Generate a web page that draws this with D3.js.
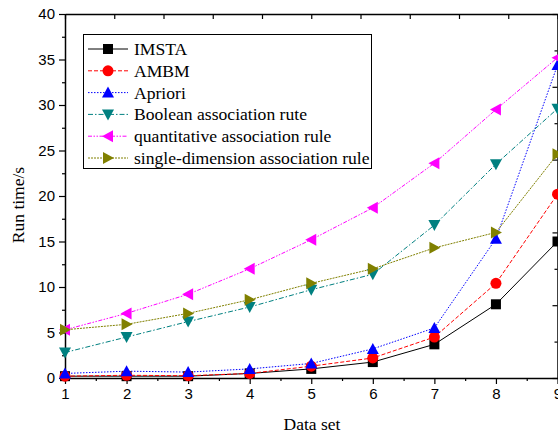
<!DOCTYPE html>
<html>
<head>
<meta charset="utf-8">
<script src="https://cdn.jsdelivr.net/npm/d3@7"></script>
<style>
  html, body { margin: 0; padding: 0; background: #fff; }
  svg { display: block; }
  .tick text { font-family: "Liberation Sans", Arial, sans-serif; font-size: 15px; fill: #000; }
  .title { font-family: "Liberation Serif", "Times New Roman", serif; font-size: 17.5px; fill: #000; }
  .legend text { font-family: "Liberation Serif", "Times New Roman", serif; font-size: 17.6px; fill: #000; }
</style>
</head>
<body>
<svg id="chart" width="558" height="436"></svg>
<script>
// data
const dataSets = [1, 2, 3, 4, 5, 6, 7, 8, 9];
const imsta     = [0.2, 0.2, 0.2, 0.5, 1.0, 1.75, 3.7, 8.1, 15.0];
const ambm      = [0.2, 0.3, 0.25, 0.5, 1.3, 2.2, 4.5, 10.4, 20.2];
const apriori   = [0.5, 0.75, 0.65, 1.0, 1.6, 3.2, 5.5, 15.3, 34.4];
const boolRule  = [2.8, 4.5, 6.2, 7.8, 9.7, 11.4, 16.8, 23.5, 29.6];
const quantRule = [5.3, 7.1, 9.2, 12.0, 15.2, 18.7, 23.6, 29.5, 35.2];
const singleDim = [5.3, 5.9, 7.1, 8.6, 10.4, 12.0, 14.3, 16.0, 24.6];
const yTicks = [0, 5, 10, 15, 20, 25, 30, 35, 40];

const series = [
  { name: 'IMSTA', values: imsta, color: '#000000', dash: null, marker: 'square' },
  { name: 'AMBM', values: ambm, color: '#ff0000', dash: '4,2', marker: 'circle' },
  { name: 'Apriori', values: apriori, color: '#0000ff', dash: '1.5,1.5', marker: 'up' },
  { name: 'Boolean association rute', values: boolRule, color: '#008080', dash: '5,2,1.5,2', marker: 'down' },
  { name: 'quantitative association rule', values: quantRule, color: '#ff00ff', dash: '4,1.5,1.5,1.5,1.5,1.5', marker: 'left' },
  { name: 'single-dimension association rule', values: singleDim, color: '#808000', dash: '2,1', marker: 'right' }
];

const svg = d3.select('#chart');
const L = 65, R = 557.5, T = 14, B = 378;

const x = d3.scaleLinear().domain([1, 9]).range([L, R]);
const y = d3.scaleLinear().domain([0, 40]).range([B, T]);

// marker shapes
function markerPath(type, s) {
  const h = s / 2;
  switch (type) {
    case 'square': return `M${-h},${-h}H${h}V${h}H${-h}Z`;
    case 'up': return `M0,${-h - 1}L${h + 1},${h}L${-h - 1},${h}Z`;
    case 'down': return `M0,${h + 1}L${h + 1},${-h}L${-h - 1},${-h}Z`;
    case 'left': return `M${-h - 1},0L${h},${-h - 1}L${h},${h + 1}Z`;
    case 'right': return `M${h + 1},0L${-h},${-h - 1}L${-h},${h + 1}Z`;
  }
  return null;
}
function drawMarker(g, type, color, cx, cy) {
  if (type === 'circle') {
    g.append('circle').attr('cx', cx).attr('cy', cy).attr('r', 5.5).attr('fill', color);
  } else {
    g.append('path').attr('d', markerPath(type, 10))
      .attr('transform', `translate(${cx},${cy})`).attr('fill', color);
  }
}

// axes
svg.append('g').attr('transform', `translate(0,${B})`)
  .call(d3.axisBottom(x).tickValues(dataSets).tickFormat(d3.format('d')).tickSizeInner(6).tickSizeOuter(0).tickPadding(4));
svg.append('g').attr('transform', `translate(0,${B})`)
  .call(d3.axisBottom(x).tickValues(d3.range(1.5, 9, 1)).tickFormat('').tickSizeInner(3).tickSizeOuter(0))
  .select('.domain').remove();

svg.append('g').attr('transform', `translate(${L},0)`)
  .call(d3.axisLeft(y).tickValues(yTicks).tickSizeInner(6).tickSizeOuter(0).tickPadding(4));
svg.append('g').attr('transform', `translate(${L},0)`)
  .call(d3.axisLeft(y).tickValues(d3.range(2.5, 40, 5)).tickFormat('').tickSizeInner(3).tickSizeOuter(0))
  .select('.domain').remove();

// top and right frame with their own tick spacing
const xTop = d3.scaleLinear().domain([0, 10]).range([L, R]);
svg.append('g').attr('transform', `translate(0,${T})`)
  .call(d3.axisBottom(xTop).ticks(10).tickFormat('').tickSizeInner(5).tickSizeOuter(0));

const yRight = d3.scaleLinear().domain([0, 10]).range([B, T]);
svg.append('g').attr('transform', `translate(${R},0)`)
  .call(d3.axisLeft(yRight).tickValues(d3.range(0, 11, 2)).tickFormat('').tickSizeInner(5).tickSizeOuter(0));
svg.append('g').attr('transform', `translate(${R},0)`)
  .call(d3.axisLeft(yRight).tickValues(d3.range(1, 10, 2)).tickFormat('').tickSizeInner(3).tickSizeOuter(0))
  .select('.domain').remove();

svg.selectAll('.domain').attr('stroke-width', 1.5);
svg.selectAll('.tick line').attr('stroke-width', 1.2);

// axis titles
svg.append('text').attr('class', 'title')
  .attr('x', 312).attr('y', 430).attr('text-anchor', 'middle').text('Data set');
svg.append('text').attr('class', 'title')
  .attr('transform', 'translate(24,205) rotate(-90)').attr('text-anchor', 'middle').text('Run time/s');

// lines and markers
const line = d3.line().x((d, i) => x(dataSets[i])).y(d => y(d));
const plot = svg.append('g');
series.forEach(s => {
  plot.append('path').datum(s.values)
    .attr('d', line).attr('fill', 'none')
    .attr('stroke', s.color).attr('stroke-width', 1)
    .attr('stroke-dasharray', s.dash);
});
series.forEach(s => {
  const g = plot.append('g');
  s.values.forEach((v, i) => drawMarker(g, s.marker, s.color, x(dataSets[i]), y(v)));
});

// legend
const lg = svg.append('g').attr('class', 'legend');
lg.append('rect').attr('x', 83.5).attr('y', 34.5).attr('width', 288).attr('height', 134)
  .attr('fill', '#fff').attr('stroke', '#000').attr('stroke-width', 1);
series.forEach((s, i) => {
  const cy = 49 + i * 21.8;
  lg.append('line').attr('x1', 88).attr('x2', 128).attr('y1', cy).attr('y2', cy)
    .attr('stroke', s.color).attr('stroke-width', 1).attr('stroke-dasharray', s.dash);
  drawMarker(lg, s.marker, s.color, 108, cy);
  lg.append('text').attr('x', 134).attr('y', cy + 6).text(s.name);
});
</script>
</body>
</html>
